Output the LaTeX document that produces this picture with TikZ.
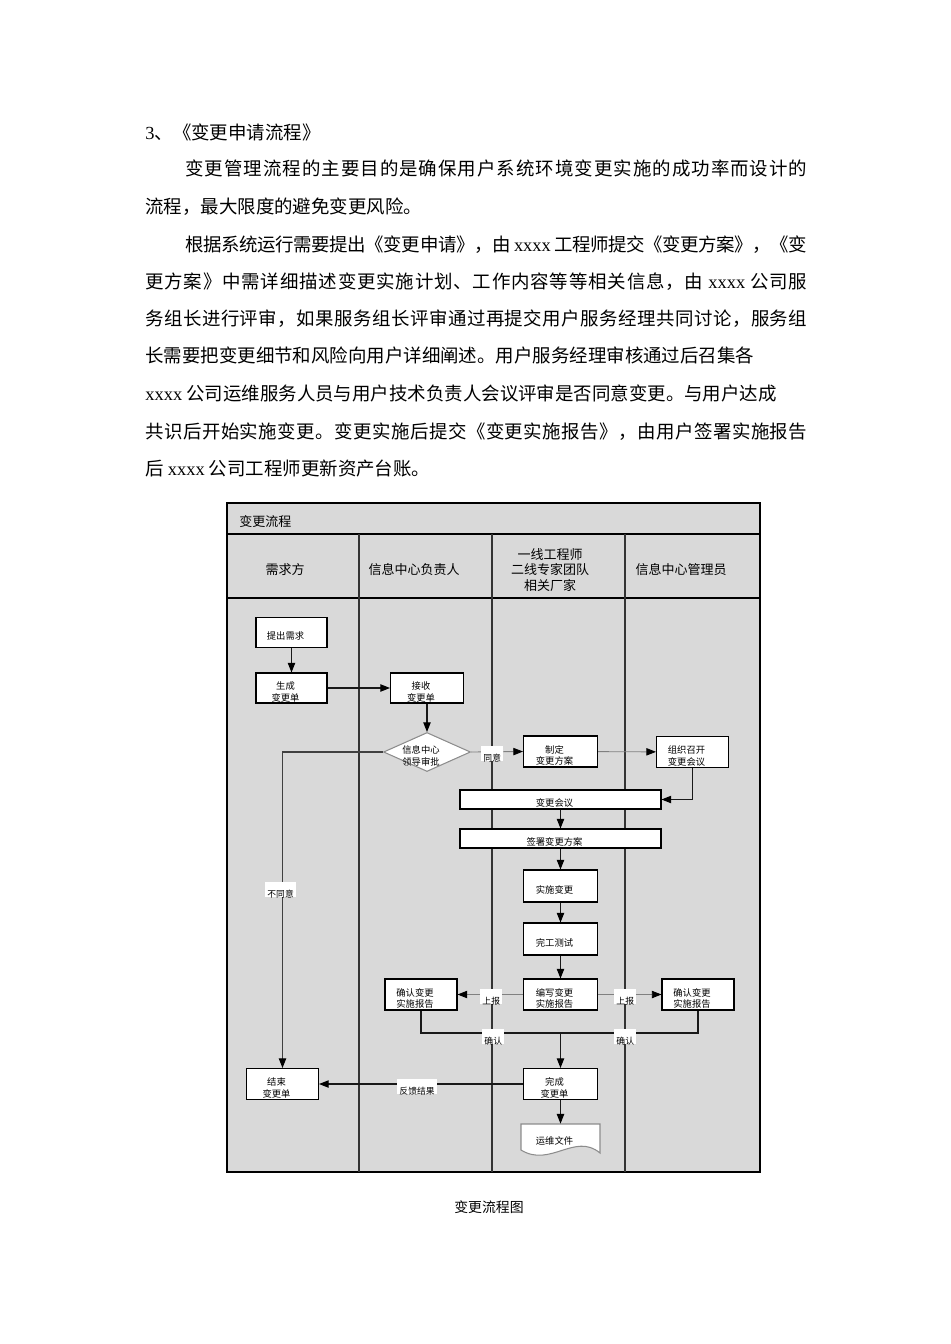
\documentclass[tikz,border=0pt]{standalone}
\usepackage{fontspec}
\setmainfont{Noto Sans CJK SC}
\newfontfamily\latinfont{Liberation Serif}
\usetikzlibrary{arrows.meta,shapes.geometric}

% glue between CJK characters, so that full lines can be spread
\newcount\cjkchar
\cjkchar="3000
\loop
  \XeTeXcharclass\cjkchar=7
  \advance\cjkchar by 1
\ifnum\cjkchar<"A000 \repeat
\cjkchar="FF00
\loop
  \XeTeXcharclass\cjkchar=7
  \advance\cjkchar by 1
\ifnum\cjkchar<"FFF0 \repeat
\XeTeXinterchartoks 7 7 = {\hskip 0pt plus 1pt minus 0.4pt}
\XeTeXinterchartokenstate=1

\newdimen\pxu
\pxu=0.02cm
\newcommand\bodyfont{\fontsize{10.5pt}{12pt}\selectfont}
\newcommand\fullline[2]{\makebox[#1\pxu][s]{#2}}
\newcommand\inbox[1]{\raisebox{-4.1pt}[0pt][0pt]{\makebox[0pt]{\begin{tabular}{@{}c@{}}#1\end{tabular}\kern6.8pt}}}
\newcommand\xx{{\latinfont xxxx}}

\tikzset{
  sz/.style 2 args={minimum width=#1*0.02cm, minimum height=#2*0.02cm},
  para/.style={anchor=base west, inner sep=0pt, font=\bodyfont},
  lanehead/.style={inner sep=0pt, align=center, font=\fontsize{7.4pt}{9pt}\selectfont},
  stepbox/.style={draw=black, fill=white, line width=0.6pt, inner sep=0pt,
    font=\fontsize{5.3pt}{6.6pt}\selectfont},
  decision/.style={diamond, aspect=1, draw=black!45, fill=white, line width=0.6pt,
    inner sep=0pt, font=\fontsize{5.3pt}{6.6pt}\selectfont},
  lbl/.style={fill=white, anchor=base west, inner xsep=1.2pt, inner ysep=0pt,
    text height=8.4pt, text depth=-3.3pt, font=\fontsize{5pt}{6pt}\selectfont},
  flow/.style={draw=black!90, line width=0.6pt},
  soft/.style={draw=black!50, line width=0.5pt},
  laneline/.style={draw=black!80, line width=0.9pt}
}

\begin{document}
\begin{tikzpicture}[x=0.02cm, y=-0.02cm, >={Triangle[length=5.5pt,width=4.2pt,color=black]}]
  \path[use as bounding box, fill=white] (0,0) rectangle (950,1344);

  \node[para] (p0) at (145,140) {{\latinfont 3}、《变更申请流程》};
  \node[para] (p1) at (185,176) {\fullline{622}{变更管理流程的主要目的是确保用户系统环境变更实施的成功率而设计的}};
  \node[para] (p2) at (145,214) {流程，最大限度的避免变更风险。};
  \node[para] (p3) at (185,252) {\fullline{622}{根据系统运行需要提出《变更申请》，由 \xx{} 工程师提交《变更方案》，《变}};
  \node[para] (p4) at (145,289) {\fullline{662}{更方案》中需详细描述变更实施计划、工作内容等等相关信息，由 \xx{} 公司服}};
  \node[para] (p5) at (145,326) {\fullline{662}{务组长进行评审，如果服务组长评审通过再提交用户服务经理共同讨论，服务组}};
  \node[para] (p6) at (145,363) {长需要把变更细节和风险向用户详细阐述。用户服务经理审核通过后召集各};
  \node[para] (p7) at (145,400) {\xx{} 公司运维服务人员与用户技术负责人会议评审是否同意变更。与用户达成};
  \node[para] (p8) at (145,438) {\fullline{662}{共识后开始实施变更。变更实施后提交《变更实施报告》，由用户签署实施报告}};
  \node[para] (p9) at (145,475) {后 \xx{} 公司工程师更新资产台账。};

  \fill[black!15] (227,503) rectangle (760,1172);
  \draw[line width=0.7pt] (227,503) rectangle (760,1172);
  \draw[line width=0.7pt] (227,534) -- (760,534);
  \draw[line width=0.7pt] (227,598) -- (760,598);
  \foreach \lx in {359,492,625}
    \draw[laneline] (\lx,534) -- (\lx,1172);

  \node[lanehead, anchor=west] (flowtitle) at (239,522) {变更流程};
  \node[lanehead] (lane1) at (285,570) {需求方};
  \node[lanehead] (lane2) at (414,570) {信息中心负责人};
  \node[lanehead] (lane3) at (550,570) {一线工程师\\二线专家团队\\相关厂家};
  \node[lanehead] (lane4) at (681,570) {信息中心管理员};

  \node[stepbox, sz={71}{30}] (req) at (291.5,632.5) {\inbox{提出需求}};
  \node[stepbox, sz={71}{30}] (gen) at (291.5,688) {\inbox{生成\\变更单}};
  \node[stepbox, sz={73}{30}] (recv) at (427,688) {\inbox{接收\\变更单}};
  \node[decision, sz={87}{39}] (dia) at (427,752) {\inbox{信息中心\\领导审批}};
  \node[stepbox, sz={74}{31}] (plan) at (560.5,751.5) {\inbox{制定\\变更方案}};
  \node[stepbox, sz={72}{31}] (org) at (692.5,752) {\inbox{组织召开\\变更会议}};
  \node[stepbox, sz={201}{19}] (meet) at (560.5,799.5) {\inbox{变更会议}};
  \node[stepbox, sz={201}{19}] (sign) at (560.5,838.5) {\inbox{签署变更方案}};
  \node[stepbox, sz={74}{32}] (impl) at (560.5,886) {\inbox{实施变更}};
  \node[stepbox, sz={74}{32}] (test) at (560.5,939) {\inbox{完工测试}};
  \node[stepbox, sz={74}{31}] (write) at (560.5,994.5) {\inbox{编写变更\\实施报告}};
  \node[stepbox, sz={72}{31}] (confL) at (421,994.5) {\inbox{确认变更\\实施报告}};
  \node[stepbox, sz={72}{31}] (confR) at (698,994.5) {\inbox{确认变更\\实施报告}};
  \node[stepbox, sz={74}{31}] (done) at (560.5,1084) {\inbox{完成\\变更单}};
  \node[stepbox, sz={72}{31}] (endb) at (282.5,1084) {\inbox{结束\\变更单}};

  \draw[draw=black!45, fill=white, line width=0.6pt] (521,1124) -- (600,1124) -- (600,1153)
    .. controls (575,1132) and (550,1168) .. (521,1150) -- cycle;
  \node[inner sep=0pt, sz={79}{27}, font=\fontsize{5.3pt}{6.6pt}\selectfont] (doc) at (560.5,1137.5) {\inbox{运维文件}};
  \coordinate (merge) at (560.5,1033);

  \draw[flow,->] (req) -- (gen);
  \draw[flow,->] (gen) -- (recv);
  \draw[flow,->] (recv) -- (dia);
  \draw[flow,draw=black!75,->] (dia.west) -| (endb.north);
  \draw[soft,->] (dia.east) -- (plan.west);
  \draw[soft,->] (plan) -- (org);
  \draw[flow,->] (org.south) |- (meet.east);
  \draw[flow,->] (meet) -- (sign);
  \draw[flow,->] (sign) -- (impl);
  \draw[flow,->] (impl) -- (test);
  \draw[flow,->] (test) -- (write);
  \draw[soft,->] (write) -- (confL);
  \draw[soft,->] (write) -- (confR);
  \draw[flow] (confL.south) |- (merge) -| (confR.south);
  \draw[flow,->] (merge) -- (done);
  \draw[flow,->] (done) -- (endb);
  \draw[flow,->] (done) -- (doc);

  \node[lbl] (agree) at (481,761) {同意};
  \node[lbl] (reject) at (265,897) {不同意};
  \node[lbl] (upL) at (480,1004) {上报};
  \node[lbl] (upR) at (614,1004) {上报};
  \node[lbl] (okL) at (482,1044) {确认};
  \node[lbl] (okR) at (614,1044) {确认};
  \node[lbl] (feedback) at (397,1094) {反馈结果};

  \node[font=\fontsize{7.9pt}{9pt}\selectfont] (caption) at (489,1207) {变更流程图};
\end{tikzpicture}
\end{document}
